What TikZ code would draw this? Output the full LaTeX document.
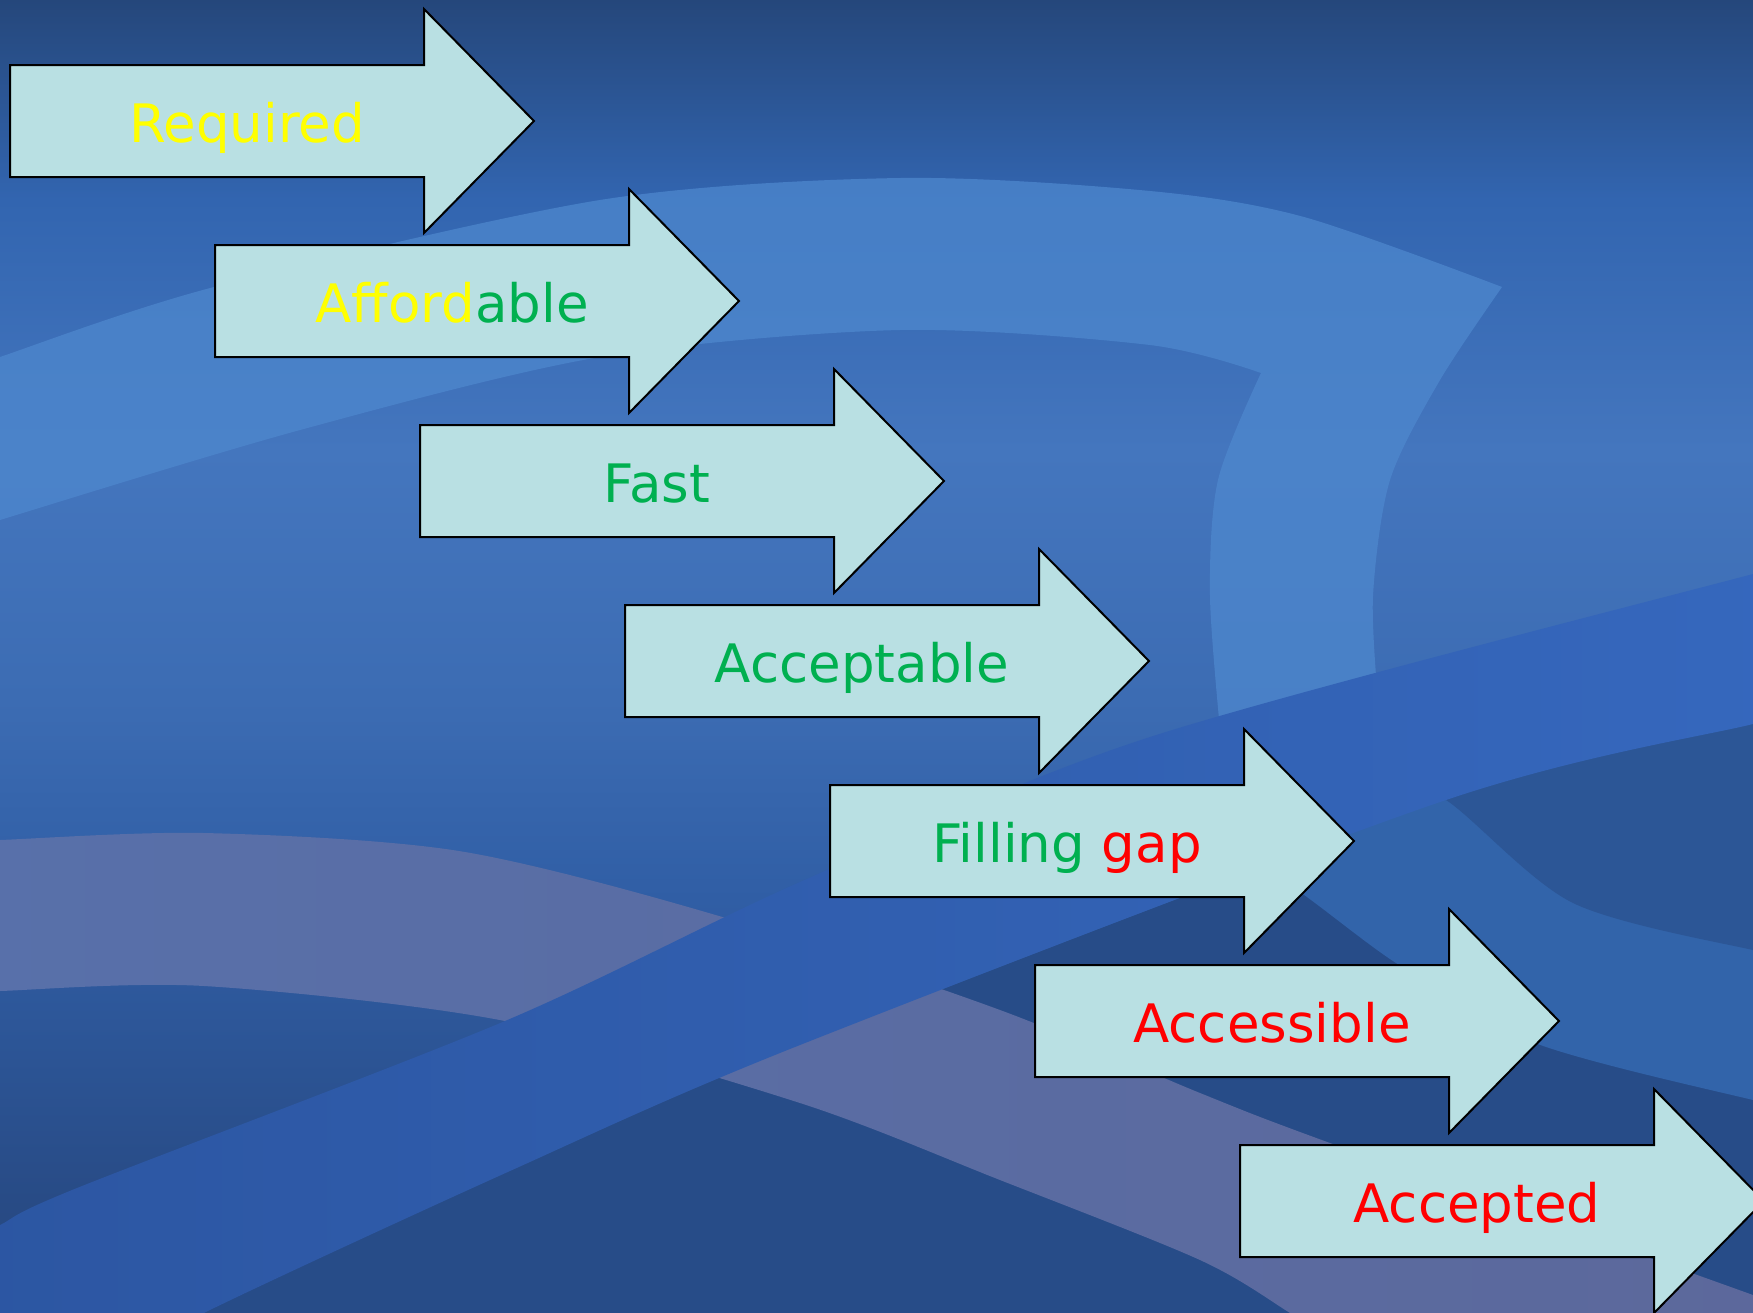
\documentclass[tikz,border=0pt]{standalone}
\usepackage{fontspec}
\setmainfont{DejaVu Sans}
\definecolor{arrowfill}{RGB}{185,224,227}
\definecolor{txtyellow}{RGB}{255,255,0}
\definecolor{txtgreen}{RGB}{0,176,80}
\definecolor{txtred}{RGB}{255,0,0}
\definecolor{lightband}{RGB}{78,136,206}
\definecolor{mauveL}{RGB}{88,112,170}
\definecolor{mauveR}{RGB}{92,104,155}
\definecolor{diagL}{RGB}{44,86,162}
\definecolor{diagR}{RGB}{54,104,190}
\definecolor{lowdark}{RGB}{39,76,136}
\definecolor{ringblue}{RGB}{50,100,170}
\definecolor{circdark}{RGB}{44,86,150}
\definecolor{bgA}{RGB}{37,68,122}
\definecolor{bgB}{RGB}{48,94,165}
\definecolor{bgC}{RGB}{60,108,179}
\definecolor{bgD}{RGB}{68,118,190}
\definecolor{bgE}{RGB}{50,101,176}
\definecolor{bgF}{RGB}{37,71,123}
\pgfdeclareverticalshading{bgshade}{100bp}{
  color(0bp)=(bgA);
  color(25bp)=(bgA);
  color(40.75bp)=(bgB);
  color(48.35bp)=(bgC);
  color(57.85bp)=(bgD);
  color(67.4bp)=(bgE);
  color(75bp)=(bgF);
  color(100bp)=(bgF)}
\tikzset{
  arrowshape/.style={fill=arrowfill, draw=black, line width=1pt, line join=miter},
  lbl/.style={anchor=base, inner sep=0pt, font=\fontsize{26.5}{31}\selectfont}
}
\begin{document}
\begin{tikzpicture}[x=0.5pt,y=-0.5pt]
\useasboundingbox (0,0) rectangle (1753,1313);
\begin{scope}
\clip (0,0) rectangle (1753,1313);
% base background
\shade[shading=bgshade] (0,0) rectangle (1753,1313);
% upper light arc band
\fill[lightband, opacity=0.75]
  plot[smooth] coordinates {(-20,365) (0,357) (214,287) (600,200) (900,178) (1150,191) (1304,217) (1502,287)}
  -- plot[smooth] coordinates {(1502,287) (1440,380) (1390,480) (1373,596) (1378,700)}
  -- (1221,740)
  -- plot[smooth] coordinates {(1221,740) (1210,596) (1218,480) (1261,373)}
  -- plot[smooth] coordinates {(1261,373) (1150,345) (900,330) (600,357) (300,430) (0,520) (-20,528)}
  -- cycle;
% dark region below the diagonal band
\fill[lowdark]
  plot[smooth] coordinates {(1800,712) (1753,724) (1446,800) (800,1045) (510,1171) (204,1313) (150,1350)}
  -- (1800,1350) -- cycle;
% lighter ring on the right
\fill[ringblue]
  plot[smooth] coordinates {(1120,800) (1270,872) (1396,963) (1535,1043) (1753,1100) (1800,1108)}
  -- (1800,700) -- (1300,760) -- cycle;
% darker circle
\fill[circdark]
  plot[smooth] coordinates {(1380,780) (1446,800) (1573,903) (1753,950) (1800,955)}
  -- (1800,700) -- (1380,700) -- cycle;
% mauve band
\shade[left color=mauveL, right color=mauveR]
  plot[smooth] coordinates {(-20,841) (0,840) (204,833) (459,851) (719,916) (1000,1010) (1200,1093) (1330,1143) (1753,1295) (1800,1312)}
  -- (1800,1400) -- (1360,1360)
  -- plot[smooth] coordinates {(1360,1360) (1290,1313) (1200,1260) (1000,1180) (800,1103) (505,1021) (204,986) (0,991) (-20,992)}
  -- cycle;
% diagonal bright band
\shade[left color=diagL, right color=diagR]
  plot[smooth] coordinates {(-40,1245) (0,1225) (77,1188) (505,1021) (800,882) (1150,737) (1753,574) (1800,564)}
  -- (1800,712)
  -- plot[smooth] coordinates {(1800,712) (1753,724) (1446,800) (800,1045) (510,1171) (204,1313) (150,1350)}
  -- (-40,1350) -- cycle;
\end{scope}
% arrows
\foreach \i in {0,...,6}{
  \pgfmathsetmacro{\L}{10+205*\i}
  \pgfmathsetmacro{\H}{424+205*\i}
  \pgfmathsetmacro{\X}{534+205*\i}
  \pgfmathsetmacro{\T}{65+180*\i}
  \pgfmathsetmacro{\B}{177+180*\i}
  \pgfmathsetmacro{\HT}{9+180*\i}
  \pgfmathsetmacro{\HB}{233+180*\i}
  \pgfmathsetmacro{\C}{121+180*\i}
  \draw[arrowshape] (\L,\T) -- (\H,\T) -- (\H,\HT) -- (\X,\C) -- (\H,\HB) -- (\H,\B) -- (\L,\B) -- cycle;
}
% labels
\node[lbl] (t1) at (247,142) {\textcolor{txtyellow}{Required}};
\node[lbl] (t2) at (452,322) {\textcolor{txtyellow}{Afford}\textcolor{txtgreen}{able}};
\node[lbl] (t3) at (657,502) {\textcolor{txtgreen}{Fast}};
\node[lbl] (t4) at (862,682) {\textcolor{txtgreen}{Acceptable}};
\node[lbl] (t5) at (1067,862) {\textcolor{txtgreen}{Filling} \textcolor{txtred}{gap}};
\node[lbl] (t6) at (1272,1042) {\textcolor{txtred}{Accessible}};
\node[lbl] (t7) at (1477,1222) {\textcolor{txtred}{Accepted}};
\end{tikzpicture}
\end{document}
